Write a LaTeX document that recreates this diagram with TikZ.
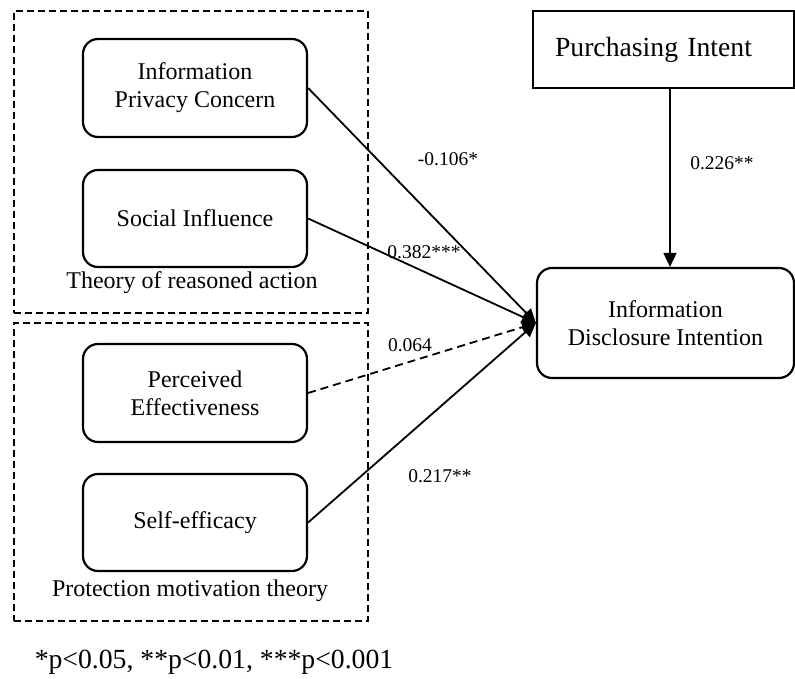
\documentclass[tikz,border=0pt]{standalone}
\usepackage{fontspec}
\setmainfont{Liberation Serif}
\usetikzlibrary{arrows.meta}
\begin{document}
\begin{tikzpicture}[x=1pt,y=-1pt,
  construct/.style={draw,line width=2.2pt,rounded corners=15pt,minimum width=224pt,minimum height=97pt,align=center,inner sep=0pt,font=\fontsize{24}{28}\selectfont},
  groupbox/.style={draw,line width=1.5pt,dash pattern=on 7pt off 4pt,minimum width=354pt,inner sep=0pt},
  grouplabel/.style={font=\fontsize{24}{28}\selectfont,inner sep=0pt},
  coef/.style={font=\fontsize{19.5}{22}\selectfont,inner sep=0pt},
  path/.style={line width=1.8pt,-{Triangle[length=14pt,width=13pt]}},
  nspath/.style={path,dash pattern=on 8pt off 5pt}]
\useasboundingbox (0,0) rectangle (795,679);
% groups
\node[groupbox,minimum height=302pt] (tra) at (191,162) {};
\node[groupbox,minimum height=298pt] (pmt) at (191,472) {};
\node[grouplabel] (tral) at (192,283) {Theory of reasoned action};
\node[grouplabel] (pmtl) at (190,591) {Protection motivation theory};
% constructs
\node[construct,minimum height=98pt] (ipc) at (195,88) {Information\\Privacy Concern};
\node[construct] (si) at (195,218.5) {Social Influence};
\node[construct,minimum height=98pt] (pe) at (195,393) {Perceived\\Effectiveness};
\node[construct] (se) at (195,522.5) {Self-efficacy};
\node[draw,line width=2.2pt,minimum height=77pt,text width=217pt,inner xsep=22pt,inner ysep=0pt,align=left,font=\fontsize{27.7}{32}\selectfont] (pi) at (663.5,49.5) {Purchasing Intent};
\node[construct,minimum width=257pt,minimum height=110pt] (idi) at (665.5,323) {Information\\Disclosure Intention};
\coordinate (pix) at (670,0);
% paths
\draw[path] (ipc.east) -- (idi.west);
\draw[path] (si.east) -- (idi.west);
\draw[nspath] (pe.east) -- (idi.west);
\draw[path] (se.east) -- (idi.west);
\draw[path] (pi.south -| pix) -- (idi.north -| pix);
% coefficients
\node[coef] (c1) at (448,159) {-0.106*};
\node[coef] (c2) at (424,252) {0.382***};
\node[coef] (c3) at (410,345) {0.064};
\node[coef] (c4) at (440,476) {0.217**};
\node[coef] (c5) at (722,163) {0.226**};
% footnote
\node[font=\fontsize{27.7}{32}\selectfont,inner sep=0pt] (note) at (214,662) {*p<0.05, **p<0.01, ***p<0.001};
\end{tikzpicture}
\end{document}
